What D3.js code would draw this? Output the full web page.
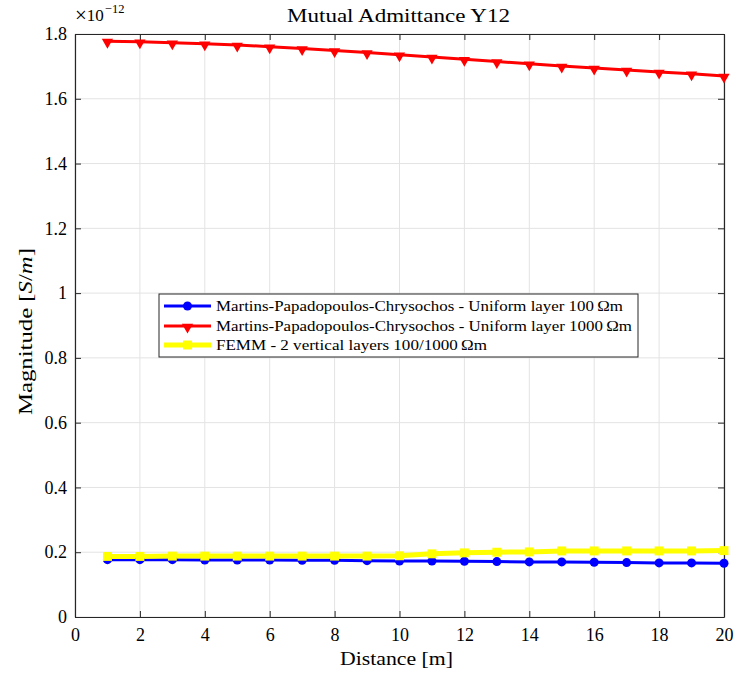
<!DOCTYPE html>
<html><head><meta charset="utf-8">
<script src="https://cdn.jsdelivr.net/npm/d3@7"></script>
<style>body{margin:0;background:#fff}svg{display:block}text{font-family:"Liberation Serif","DejaVu Serif",serif;fill:#000}</style>
</head><body>
<svg id="c" width="736" height="675"></svg>
<script>
const distance = [1,2,3,4,5,6,7,8,9,10,11,12,13,14,15,16,17,18,19,20];
const uniform100 = [0.177,0.177,0.177,0.176,0.176,0.176,0.175,0.175,0.174,0.173,0.173,0.172,0.171,0.170,0.170,0.169,0.168,0.167,0.167,0.166];
const uniform1000 = [1.778,1.776,1.773,1.770,1.766,1.761,1.755,1.749,1.743,1.736,1.729,1.722,1.715,1.708,1.701,1.695,1.689,1.683,1.677,1.670];
const femm = [0.187,0.187,0.188,0.188,0.188,0.188,0.188,0.188,0.188,0.189,0.195,0.198,0.200,0.201,0.204,0.204,0.204,0.204,0.204,0.205];
const xTicks = [0,2,4,6,8,10,12,14,16,18,20];
const yTicks = [0,0.2,0.4,0.6,0.8,1,1.2,1.4,1.6,1.8];
const legendLabels = ["Martins-Papadopoulos-Chrysochos - Uniform layer 100\u2009\u03A9m","Martins-Papadopoulos-Chrysochos - Uniform layer 1000\u2009\u03A9m","FEMM - 2 vertical layers 100/1000\u2009\u03A9m"];

const svg = d3.select("#c");
const L=75,R=724,T=34,B=617;
const x = d3.scaleLinear().domain([0,20]).range([L,R]);
const y = d3.scaleLinear().domain([0,1.8]).range([B,T]);

// grid
svg.append("g").selectAll("line").data(xTicks).join("line")
 .attr("x1",d=>x(d)).attr("x2",d=>x(d)).attr("y1",T).attr("y2",B).attr("stroke","#e3e3e3").attr("stroke-width",1);
svg.append("g").selectAll("line").data(yTicks).join("line")
 .attr("x1",L).attr("x2",R).attr("y1",d=>y(d)).attr("y2",d=>y(d)).attr("stroke","#e3e3e3").attr("stroke-width",1);

// axes
const ax = d3.axisBottom(x).tickValues(xTicks).tickSizeInner(-6).tickSizeOuter(0).tickPadding(9).tickFormat(d3.format("d"));
const gx = svg.append("g").attr("transform",`translate(0,${B})`).call(ax);
const ay = d3.axisLeft(y).tickValues(yTicks).tickSizeInner(-6).tickSizeOuter(0).tickPadding(8).tickFormat(d=>d===0?"0":d===1?"1":d3.format(".1f")(d));
const gy = svg.append("g").attr("transform",`translate(${L},0)`).call(ay);
const axT = d3.axisTop(x).tickValues(xTicks).tickSizeInner(-6).tickSizeOuter(0).tickFormat("");
svg.append("g").attr("transform",`translate(0,${T})`).call(axT);
const ayR = d3.axisRight(y).tickValues(yTicks).tickSizeInner(-6).tickSizeOuter(0).tickFormat("");
svg.append("g").attr("transform",`translate(${R},0)`).call(ayR);
svg.selectAll(".domain").attr("stroke","#262626").attr("stroke-width",1.2);
svg.selectAll(".tick line").attr("stroke","#262626");
svg.selectAll(".tick text").attr("font-size",18).attr("font-family","Liberation Serif, serif").attr("fill","#262626");
gx.selectAll(".tick text").attr("dy","0.85em");

// lines
const line = (vals)=>d3.line().x((d,i)=>x(distance[i])).y(d=>y(d))(vals);
function series(vals,color,w){
  svg.append("path").attr("d",line(vals)).attr("fill","none").attr("stroke",color).attr("stroke-width",w).attr("stroke-linejoin","round");
}
series(uniform100,"#0000ff",3);
series(uniform1000,"#ff0000",3);
series(femm,"#ffff00",5);

const tri = d3.symbol().type(d3.symbolTriangle).size(55)();
const sq = d3.symbol().type(d3.symbolSquare).size(80)();
svg.append("g").selectAll("circle").data(uniform100).join("circle")
 .attr("cx",(d,i)=>x(distance[i])).attr("cy",d=>y(d)).attr("r",4.5).attr("fill","#0000ff");
svg.append("g").selectAll("path").data(uniform1000).join("path")
 .attr("d",tri).attr("transform",(d,i)=>`translate(${x(distance[i])},${y(d)+1}) rotate(180)`).attr("fill","#ff0000");
svg.append("g").selectAll("path").data(femm).join("path")
 .attr("d",sq).attr("transform",(d,i)=>`translate(${x(distance[i])},${y(d)})`).attr("fill","#ffff00");

// title & labels
svg.append("text").attr("x",287).attr("y",22).attr("font-size",19).attr("textLength",223).attr("lengthAdjust","spacingAndGlyphs").text("Mutual Admittance Y12");
svg.append("text").attr("x",340).attr("y",665).attr("font-size",19).attr("textLength",113).attr("lengthAdjust","spacingAndGlyphs").text("Distance [m]");
const yl = svg.append("text").attr("transform",`translate(32,415) rotate(-90)`).attr("font-size",19).attr("textLength",167).attr("lengthAdjust","spacingAndGlyphs");
yl.append("tspan").text("Magnitude [");
yl.append("tspan").attr("font-style","italic").text("S");
yl.append("tspan").text("/");
yl.append("tspan").attr("font-style","italic").text("m");
yl.append("tspan").text("]");
const ex = svg.append("text").attr("x",75).attr("y",21).attr("font-size",17).attr("fill","#262626");
ex.append("tspan").attr("font-size",21).attr("dy",1).text("\u00D7");
ex.append("tspan").attr("dy",-1).text("10");
ex.append("tspan").attr("font-size",12.5).attr("dy",-8).attr("dx",1).text("\u221212");

// legend
const lg = svg.append("g").attr("transform","translate(159,294)");
lg.append("rect").attr("width",479).attr("height",63).attr("fill","#fff").attr("stroke","#262626").attr("stroke-width",1);
const cols=["#0000ff","#ff0000","#ffff00"], ws=[3,3,5], rowsY=[12,32,51], tl=[407,416,271];
rowsY.forEach((ry,i)=>{
  lg.append("line").attr("x1",5).attr("x2",52).attr("y1",ry).attr("y2",ry).attr("stroke",cols[i]).attr("stroke-width",ws[i]);
  if(i===0) lg.append("circle").attr("cx",28.5).attr("cy",ry).attr("r",4.5).attr("fill",cols[i]);
  if(i===1) lg.append("path").attr("d",tri).attr("transform",`translate(28.5,${ry+1}) rotate(180)`).attr("fill",cols[i]);
  if(i===2) lg.append("path").attr("d",sq).attr("transform",`translate(28.5,${ry})`).attr("fill",cols[i]);
  lg.append("text").attr("x",57).attr("y",ry+5).attr("font-size",15.5).attr("textLength",tl[i]).attr("lengthAdjust","spacingAndGlyphs").text(legendLabels[i]);
});
</script>
</body></html>
